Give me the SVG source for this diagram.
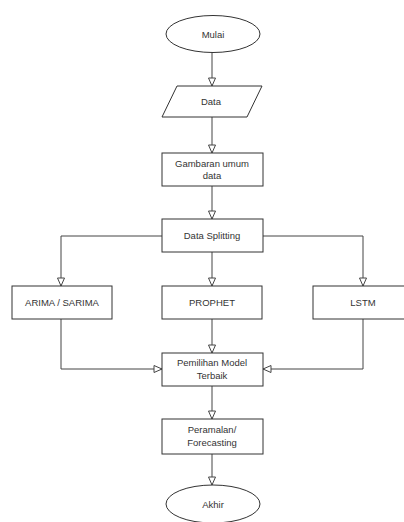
<svg xmlns="http://www.w3.org/2000/svg" width="404" height="522" viewBox="0 0 404 522">
<style>
.n{fill:#fff;stroke:#333;stroke-width:1}
.t{font-family:"Liberation Sans",Arial,sans-serif;font-size:9.5px;fill:#333;text-anchor:middle}
.c{fill:none;stroke:#444;stroke-width:1;marker-end:url(#a)}
</style>
<defs>
<marker id="a" markerUnits="userSpaceOnUse" markerWidth="10" markerHeight="10" refX="8.5" refY="4" orient="auto" overflow="visible">
<path d="M0.5,0.5 L8.5,4 L0.5,7.5 z" fill="#fff" stroke="#444" stroke-width="1"/>
</marker>
</defs>
<rect width="404" height="522" fill="#fff"/>
<g id="connectors">
<path class="c" d="M212,52 V86"/>
<path class="c" d="M212,117 V153"/>
<path class="c" d="M212,186 V219"/>
<path class="c" d="M162,236 H61 V286"/>
<path class="c" d="M212,252 V286"/>
<path class="c" d="M263,236 H363 V286"/>
<path class="c" d="M61,319 V369 H162"/>
<path class="c" d="M212,319 V353"/>
<path class="c" d="M363,319 V369 H263"/>
<path class="c" d="M212,386 V419"/>
<path class="c" d="M212,454 V485"/>
</g>
<g id="mulai"><ellipse class="n" cx="213" cy="34" rx="47" ry="18.5"/><text class="t" x="213" y="37.5">Mulai</text></g>
<g id="data"><polygon class="n" points="177,86 262,86 247,117 162,117"/><text class="t" x="211" y="105">Data</text></g>
<g id="gambaran"><rect class="n" x="162" y="153" width="101" height="33"/><text class="t" x="212" y="167">Gambaran umum</text><text class="t" x="212" y="179">data</text></g>
<g id="splitting"><rect class="n" x="162" y="219" width="101" height="33"/><text class="t" x="212" y="239">Data Splitting</text></g>
<g id="arima"><rect class="n" x="12" y="286" width="100" height="33"/><text class="t" x="62" y="305.5">ARIMA / SARIMA</text></g>
<g id="prophet"><rect class="n" x="162" y="286" width="100" height="33"/><text class="t" x="212" y="305.5">PROPHET</text></g>
<g id="lstm"><rect class="n" x="313" y="286" width="100" height="33"/><text class="t" x="363" y="305.5">LSTM</text></g>
<g id="pemilihan"><rect class="n" x="162" y="353" width="101" height="33"/><text class="t" x="212" y="366">Pemilihan Model</text><text class="t" x="212" y="379">Terbaik</text></g>
<g id="peramalan"><rect class="n" x="162" y="419" width="101" height="35"/><text class="t" x="212" y="433">Peramalan/</text><text class="t" x="212" y="446">Forecasting</text></g>
<g id="akhir"><ellipse class="n" cx="213" cy="504" rx="47" ry="19"/><text class="t" x="213" y="507.5">Akhir</text></g>
</svg>
